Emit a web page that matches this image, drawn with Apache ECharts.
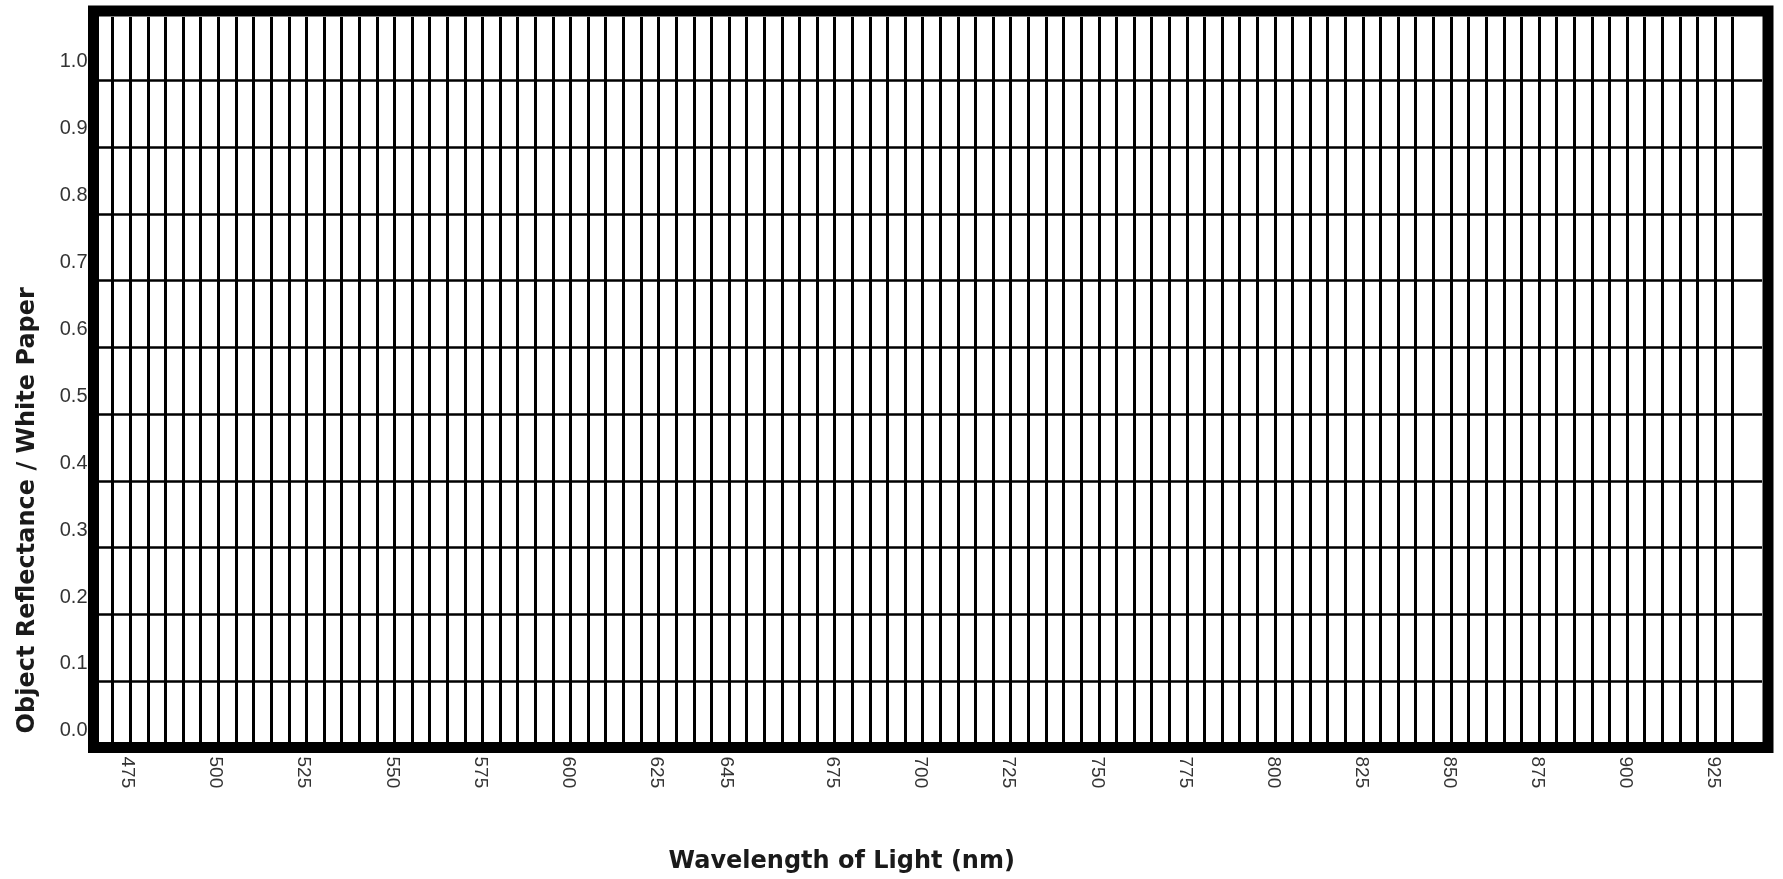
<!DOCTYPE html>
<html>
<head>
<meta charset="utf-8">
<title>Object Reflectance</title>
<script src="https://cdn.jsdelivr.net/npm/echarts@6/dist/echarts.min.js"></script>
<style>
    html, body { margin: 0; padding: 0; background: #fff; }
    #main { width: 1783px; height: 879px; }
</style>
</head>
<body>
<div id="main"></div>
<script>

// tick labels
var wavelengthLabels = [475, 500, 525, 550, 575, 600, 625, 645, 675, 700, 725, 750, 775, 800, 825, 850, 875, 900, 925];
var reflectanceLabels = [0.0, 0.1, 0.2, 0.3, 0.4, 0.5, 0.6, 0.7, 0.8, 0.9, 1.0];

// axis ranges of the outer frame
var wavelengthRange = [465.4, 940.4];
var reflectanceRange = [-0.025, 1.076];

// the ruled lines: every 5 nm, every 0.1
var verticalLines = [470, 930, 5];
var horizontalLines = [0.1, 1.0, 0.1];

var labelFont = "'Liberation Sans', Arial, sans-serif";
var titleFont = "'DejaVu Sans', sans-serif";

var myChart = echarts.init(document.getElementById('main'));

myChart.setOption({
    backgroundColor: '#fff',
    animation: false,
    grid: [
        // frame + labels
        {left: 93.5, top: 11, right: 15, bottom: 131.5, show: true, borderColor: '#000', borderWidth: 11,
            backgroundColor: '#fff', outerBoundsMode: 'none'},
        // vertical lines
        {left: 112.7, top: 17, right: 50.3, bottom: 137, outerBoundsMode: 'none'},
        // horizontal lines
        {left: 99, top: 80.3, right: 21, bottom: 197.7, outerBoundsMode: 'none'}
    ],
    xAxis: [
        {
            gridIndex: 0,
            type: 'value',
            min: wavelengthRange[0],
            max: wavelengthRange[1],
            name: 'Wavelength of Light (nm)',
            nameLocation: 'middle',
            nameGap: 102,
            nameTextStyle: {fontFamily: titleFont, fontWeight: 'bold', fontSize: 24, color: '#1a1a1a', padding: [0, 178, 0, 0]},
            axisLine: {show: false},
            axisTick: {show: false},
            splitLine: {show: false},
            axisLabel: {
                customValues: wavelengthLabels,
                rotate: -90,
                margin: 9,
                fontFamily: labelFont,
                fontSize: 19,
                color: '#333'
            }
        },
        {
            gridIndex: 1,
            type: 'value',
            min: verticalLines[0],
            max: verticalLines[1],
            interval: verticalLines[2],
            axisLine: {show: false},
            axisTick: {show: false},
            axisLabel: {show: false},
            splitLine: {show: true, lineStyle: {color: '#000', width: 3}}
        },
        {gridIndex: 2, type: 'value', show: false, min: 0, max: 1}
    ],
    yAxis: [
        {
            gridIndex: 0,
            type: 'value',
            min: reflectanceRange[0],
            max: reflectanceRange[1],
            name: 'Object Reflectance / White Paper',
            nameLocation: 'middle',
            nameGap: 54,
            nameTextStyle: {fontFamily: titleFont, fontWeight: 'bold', fontSize: 24, color: '#1a1a1a', padding: [0, 262, 0, 0]},
            axisLine: {show: false},
            axisTick: {show: false},
            splitLine: {show: false},
            axisLabel: {
                customValues: reflectanceLabels,
                margin: 6,
                fontFamily: labelFont,
                fontSize: 20,
                color: '#333',
                formatter: function (v) { return v.toFixed(1); }
            }
        },
        {gridIndex: 1, type: 'value', show: false, min: 0, max: 1},
        {
            gridIndex: 2,
            type: 'value',
            min: horizontalLines[0],
            max: horizontalLines[1],
            interval: horizontalLines[2],
            axisLine: {show: false},
            axisTick: {show: false},
            axisLabel: {show: false},
            splitLine: {show: true, lineStyle: {color: '#000', width: 2.6}}
        }
    ],
    series: [
        {type: 'line', xAxisIndex: 0, yAxisIndex: 0, data: []}
    ]
});

</script>
</body>
</html>
